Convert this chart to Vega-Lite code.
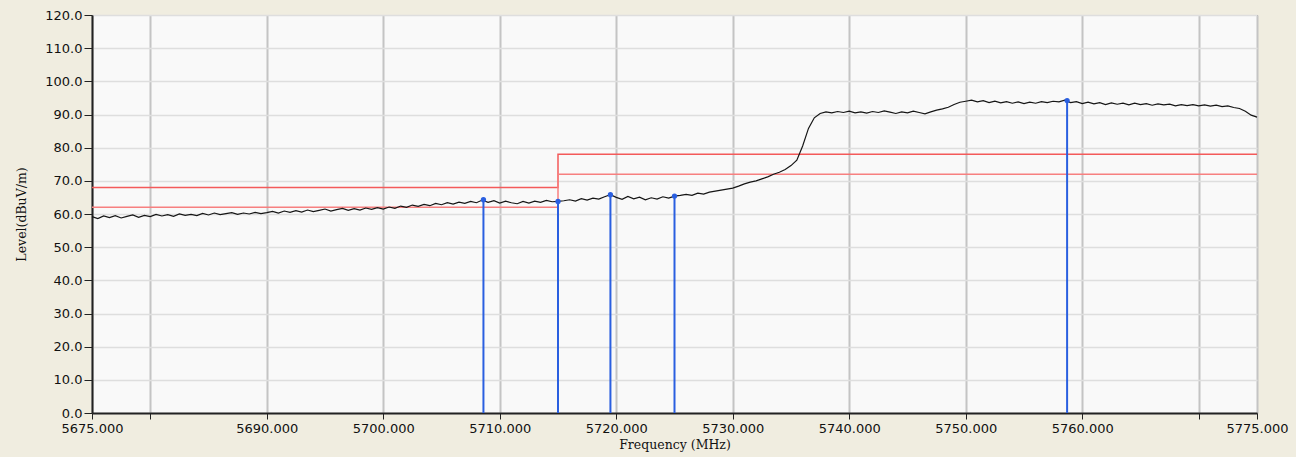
{
  "$schema": "https://vega.github.io/schema/vega-lite/v6.json",
  "autosize": "none",
  "width": 1165,
  "height": 398,
  "padding": {"left": 92, "top": 15, "right": 39, "bottom": 44},
  "background": "#f0ede0",
  "view": {"fill": "#f9f9f9", "stroke": "#555", "strokeWidth": 1},
  "config": {
    "axis": {
      "labelFont": "DejaVu Sans",
      "labelFontSize": 13,
      "labelColor": "#111",
      "tickColor": "#222",
      "domainColor": "#222",
      "domainWidth": 2,
      "titleFont": "DejaVu Serif",
      "titleFontSize": 12.5,
      "titleFontWeight": "normal",
      "titleColor": "#111"
    }
  },
  "datasets": {
    "trace": [
      {"f":5675.0,"v":59.2},{"f":5675.5,"v":58.6},{"f":5676.0,"v":59.4},{"f":5676.5,"v":58.9},{"f":5677.0,"v":59.5},{"f":5677.5,"v":58.8},{"f":5678.0,"v":59.3},{"f":5678.5,"v":59.7},{"f":5679.0,"v":59.0},{"f":5679.5,"v":59.6},
      {"f":5680.0,"v":59.2},{"f":5680.5,"v":59.9},{"f":5681.0,"v":59.4},{"f":5681.5,"v":59.8},{"f":5682.0,"v":59.3},{"f":5682.5,"v":60.0},{"f":5683.0,"v":59.6},{"f":5683.5,"v":59.9},{"f":5684.0,"v":59.5},{"f":5684.5,"v":60.2},
      {"f":5685.0,"v":59.7},{"f":5685.5,"v":60.3},{"f":5686.0,"v":59.8},{"f":5686.5,"v":60.1},{"f":5687.0,"v":60.4},{"f":5687.5,"v":59.9},{"f":5688.0,"v":60.3},{"f":5688.5,"v":60.0},{"f":5689.0,"v":60.5},{"f":5689.5,"v":60.1},
      {"f":5690.0,"v":60.4},{"f":5690.5,"v":60.8},{"f":5691.0,"v":60.3},{"f":5691.5,"v":60.9},{"f":5692.0,"v":60.5},{"f":5692.5,"v":61.0},{"f":5693.0,"v":60.6},{"f":5693.5,"v":61.2},{"f":5694.0,"v":60.7},{"f":5694.5,"v":61.1},
      {"f":5695.0,"v":61.5},{"f":5695.5,"v":60.9},{"f":5696.0,"v":61.3},{"f":5696.5,"v":61.7},{"f":5697.0,"v":61.1},{"f":5697.5,"v":61.6},{"f":5698.0,"v":61.2},{"f":5698.5,"v":61.8},{"f":5699.0,"v":61.4},{"f":5699.5,"v":61.9},
      {"f":5700.0,"v":61.5},{"f":5700.5,"v":62.1},{"f":5701.0,"v":61.7},{"f":5701.5,"v":62.4},{"f":5702.0,"v":62.0},{"f":5702.5,"v":62.7},{"f":5703.0,"v":62.3},{"f":5703.5,"v":62.9},{"f":5704.0,"v":62.5},{"f":5704.5,"v":63.2},
      {"f":5705.0,"v":62.8},{"f":5705.5,"v":63.4},{"f":5706.0,"v":63.0},{"f":5706.5,"v":63.6},{"f":5707.0,"v":63.2},{"f":5707.5,"v":63.8},{"f":5708.0,"v":63.4},{"f":5708.5,"v":64.2},{"f":5709.0,"v":63.5},{"f":5709.5,"v":64.0},
      {"f":5710.0,"v":63.3},{"f":5710.5,"v":63.9},{"f":5711.0,"v":63.4},{"f":5711.5,"v":63.1},{"f":5712.0,"v":63.8},{"f":5712.5,"v":63.3},{"f":5713.0,"v":63.9},{"f":5713.5,"v":63.5},{"f":5714.0,"v":64.1},{"f":5714.5,"v":63.7},
      {"f":5715.0,"v":63.8},{"f":5715.5,"v":64.0},{"f":5716.0,"v":64.3},{"f":5716.5,"v":63.9},{"f":5717.0,"v":64.6},{"f":5717.5,"v":64.2},{"f":5718.0,"v":64.8},{"f":5718.5,"v":64.5},{"f":5719.0,"v":65.2},{"f":5719.5,"v":65.8},
      {"f":5720.0,"v":65.0},{"f":5720.5,"v":64.4},{"f":5721.0,"v":65.3},{"f":5721.5,"v":64.6},{"f":5722.0,"v":65.1},{"f":5722.5,"v":64.3},{"f":5723.0,"v":64.9},{"f":5723.5,"v":64.5},{"f":5724.0,"v":65.2},{"f":5724.5,"v":64.8},
      {"f":5725.0,"v":65.4},{"f":5725.5,"v":65.6},{"f":5726.0,"v":65.9},{"f":5726.5,"v":65.6},{"f":5727.0,"v":66.3},{"f":5727.5,"v":66.0},{"f":5728.0,"v":66.6},{"f":5728.5,"v":66.9},{"f":5729.0,"v":67.2},{"f":5729.5,"v":67.5},
      {"f":5730.0,"v":67.8},{"f":5730.5,"v":68.4},{"f":5731.0,"v":69.1},{"f":5731.5,"v":69.6},{"f":5732.0,"v":70.0},{"f":5732.5,"v":70.6},{"f":5733.0,"v":71.2},{"f":5733.5,"v":72.0},{"f":5734.0,"v":72.6},{"f":5734.5,"v":73.4},
      {"f":5735.0,"v":74.6},{"f":5735.5,"v":76.2},{"f":5736.0,"v":80.5},{"f":5736.5,"v":85.8},{"f":5737.0,"v":89.0},{"f":5737.5,"v":90.3},{"f":5738.0,"v":90.8},{"f":5738.5,"v":90.5},{"f":5739.0,"v":90.9},{"f":5739.5,"v":90.6},
      {"f":5740.0,"v":91.0},{"f":5740.5,"v":90.5},{"f":5741.0,"v":90.8},{"f":5741.5,"v":90.4},{"f":5742.0,"v":90.9},{"f":5742.5,"v":90.6},{"f":5743.0,"v":91.1},{"f":5743.5,"v":90.7},{"f":5744.0,"v":90.3},{"f":5744.5,"v":90.8},
      {"f":5745.0,"v":90.5},{"f":5745.5,"v":91.0},{"f":5746.0,"v":90.6},{"f":5746.5,"v":90.2},{"f":5747.0,"v":90.8},{"f":5747.5,"v":91.3},{"f":5748.0,"v":91.7},{"f":5748.5,"v":92.2},{"f":5749.0,"v":93.0},{"f":5749.5,"v":93.7},
      {"f":5750.0,"v":94.0},{"f":5750.5,"v":94.3},{"f":5751.0,"v":93.8},{"f":5751.5,"v":94.2},{"f":5752.0,"v":93.6},{"f":5752.5,"v":94.0},{"f":5753.0,"v":93.5},{"f":5753.5,"v":93.9},{"f":5754.0,"v":93.4},{"f":5754.5,"v":93.8},
      {"f":5755.0,"v":93.3},{"f":5755.5,"v":93.7},{"f":5756.0,"v":93.4},{"f":5756.5,"v":93.9},{"f":5757.0,"v":93.6},{"f":5757.5,"v":94.0},{"f":5758.0,"v":93.8},{"f":5758.5,"v":94.3},{"f":5759.0,"v":93.6},{"f":5759.5,"v":93.9},
      {"f":5760.0,"v":93.3},{"f":5760.5,"v":93.7},{"f":5761.0,"v":93.2},{"f":5761.5,"v":93.6},{"f":5762.0,"v":93.0},{"f":5762.5,"v":93.5},{"f":5763.0,"v":93.1},{"f":5763.5,"v":93.4},{"f":5764.0,"v":92.9},{"f":5764.5,"v":93.4},
      {"f":5765.0,"v":93.0},{"f":5765.5,"v":93.3},{"f":5766.0,"v":92.8},{"f":5766.5,"v":93.2},{"f":5767.0,"v":92.9},{"f":5767.5,"v":93.1},{"f":5768.0,"v":92.6},{"f":5768.5,"v":93.0},{"f":5769.0,"v":92.7},{"f":5769.5,"v":93.0},
      {"f":5770.0,"v":92.6},{"f":5770.5,"v":92.9},{"f":5771.0,"v":92.5},{"f":5771.5,"v":92.8},{"f":5772.0,"v":92.4},{"f":5772.5,"v":92.6},{"f":5773.0,"v":92.1},{"f":5773.5,"v":91.8},{"f":5774.0,"v":91.0},{"f":5774.5,"v":89.8},
      {"f":5775.0,"v":89.2}
    ],
    "limits": [
      {"f":5675,"v":68,"s":"upper","o":1},{"f":5715,"v":68,"s":"upper","o":2},{"f":5715,"v":78,"s":"upper","o":3},{"f":5775,"v":78,"s":"upper","o":4},
      {"f":5675,"v":62,"s":"lower","o":1},{"f":5715,"v":62,"s":"lower","o":2},{"f":5715,"v":72,"s":"lower","o":3},{"f":5775,"v":72,"s":"lower","o":4}
    ],
    "markers": [
      {"f":5708.6,"v":64.3},{"f":5715.0,"v":63.8},{"f":5719.5,"v":65.8},{"f":5725.0,"v":65.4},{"f":5758.7,"v":94.2}
    ]
  },
  "encoding": {
    "x": {
      "field": "f", "type": "quantitative",
      "scale": {"domain": [5675, 5775], "nice": false, "zero": false},
      "axis": {
        "title": "Frequency (MHz)",
        "values": [5675, 5680, 5690, 5700, 5710, 5720, 5730, 5740, 5750, 5760, 5770, 5775],
        "labelExpr": "datum.value == 5680 || datum.value == 5770 ? '' : format(datum.value, '.3f')",
        "labelFlush": false,
        "labelOverlap": false,
        "tickSize": 6,
        "labelPadding": 3,
        "titlePadding": 3,
        "grid": true,
        "gridColor": "#c4c4c4",
        "gridWidth": 2
      }
    },
    "y": {
      "field": "v", "type": "quantitative",
      "scale": {"domain": [0, 120], "nice": false},
      "axis": {
        "title": "Level(dBuV/m)",
        "values": [0, 10, 20, 30, 40, 50, 60, 70, 80, 90, 100, 110, 120],
        "labelExpr": "format(datum.value, '.1f')",
        "labelOverlap": false,
        "labelFlush": false,
        "tickSize": 8,
        "labelPadding": 2,
        "titlePadding": 16,
        "grid": true,
        "gridColor": "#dedede",
        "gridWidth": 1.5
      }
    }
  },
  "layer": [
    {
      "data": {"name": "limits"},
      "mark": {"type": "line", "strokeWidth": 1.5},
      "encoding": {
        "detail": {"field": "s"},
        "order": {"field": "o"},
        "color": {"field": "s", "type": "nominal", "scale": {"domain": ["upper", "lower"], "range": ["#f45a5a", "#f78080"]}, "legend": null}
      }
    },
    {
      "data": {"name": "markers"},
      "mark": {"type": "rule", "color": "#2a5fe0", "strokeWidth": 2},
      "encoding": {
        "y2": {"datum": 0}
      }
    },
    {
      "data": {"name": "trace"},
      "mark": {"type": "line", "color": "#151515", "strokeWidth": 1.2},
      "encoding": {}
    },
    {
      "data": {"name": "markers"},
      "mark": {"type": "point", "shape": "circle", "filled": true, "color": "#2a5fe0", "size": 28, "opacity": 1},
      "encoding": {}
    }
  ]
}
